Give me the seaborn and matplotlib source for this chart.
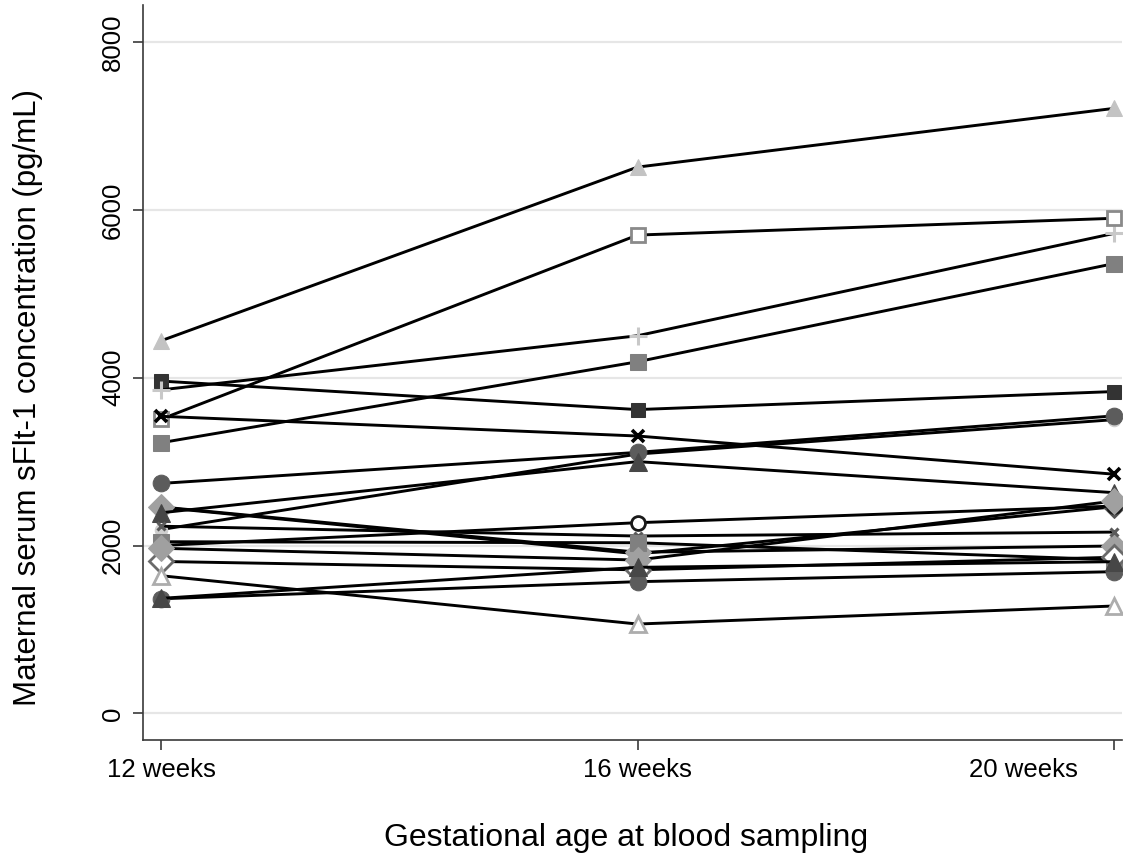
import matplotlib
matplotlib.use("Agg")
import matplotlib.pyplot as plt
import matplotlib.transforms as mtransforms
import seaborn as sns
import pandas as pd

# Sampling times (weeks of gestation) and their axis labels
weeks = [12, 16, 20]
week_labels = ["12 weeks", "16 weeks", "20 weeks"]
y_ticks = [0, 2000, 4000, 6000, 8000]

# sFlt-1 concentration (pg/mL) per woman at 12, 16 and 20 weeks
p01 = [4440, 6510, 7210]
p02 = [3960, 3620, 3835]
p03 = [3855, 4500, 5720]
p04 = [3505, 5700, 5900]
p05 = [3540, 3305, 2850]
p06 = [3225, 4190, 5360]
p07 = [2190, 3090, 3500]
p08 = [2740, 3110, 3545]
p09 = [2455, 1900, 2462]
p10 = [2460, 1920, 1994]
p11 = [2390, 3000, 2630]
p12 = [2230, 2113, 2160]
p13 = [2000, 2272, 2470]
p14 = [2045, 2033, 1830]
p15 = [1810, 1710, 1860]
p16 = [1967, 1827, 2530]
p17 = [1640, 1064, 1279]
p18 = [1365, 1569, 1688]
p19 = [1370, 1740, 1807]

subjects = [p01, p02, p03, p04, p05, p06, p07, p08, p09, p10,
            p11, p12, p13, p14, p15, p16, p17, p18, p19]

# marker styles in a monochrome palette, one per woman
marker_styles = [
    dict(marker="^", ms=12, mfc="#c3c3c3", mec="#c3c3c3"),
    dict(marker="s", ms=10, mfc="#333333", mec="#333333"),
    dict(marker="+", ms=13, mfc="#c8c8c8", mec="#c8c8c8", mew=2.2),
    dict(marker="s", ms=10, mfc="white", mec="#8a8a8a", mew=2.0),
    dict(marker="x", ms=9, mfc="black", mec="black", mew=2.6),
    dict(marker="s", ms=11, mfc="#808080", mec="#808080"),
    dict(marker="o", ms=9, mfc="#cfcfcf", mec="#cfcfcf"),
    dict(marker="o", ms=12, mfc="#5c5c5c", mec="#5c5c5c"),
    dict(marker="D", ms=11, mfc="#545454", mec="#545454"),
    dict(marker="D", ms=13, mfc="#a0a0a0", mec="#a0a0a0"),
    dict(marker="^", ms=13, mfc="#474747", mec="#474747"),
    dict(marker="x", ms=6, mfc="#5a5a5a", mec="#5a5a5a", mew=2.2),
    dict(marker="o", ms=10, mfc="white", mec="#1a1a1a", mew=2.0),
    dict(marker="s", ms=11, mfc="#808080", mec="#808080"),
    dict(marker="D", ms=12, mfc="white", mec="#6a6a6a", mew=2.0),
    dict(marker="D", ms=13, mfc="#a0a0a0", mec="#a0a0a0"),
    dict(marker="^", ms=12, mfc="white", mec="#adadad", mew=2.0),
    dict(marker="o", ms=12, mfc="#5c5c5c", mec="#5c5c5c"),
    dict(marker="^", ms=13, mfc="#474747", mec="#474747"),
]

sns.set_theme(style="white")
plt.rcParams["font.family"] = ["Liberation Sans", "DejaVu Sans"]
plt.rcParams["text.color"] = "black"
plt.rcParams["axes.labelcolor"] = "black"
plt.rcParams["xtick.color"] = "black"
plt.rcParams["ytick.color"] = "black"

W, H = 1126, 859
fig = plt.figure(figsize=(W / 100, H / 100), dpi=100)
left_px, right_px, top_px, bottom_px = 143, 1122, 5, 740
ax = fig.add_axes([left_px / W, 1 - bottom_px / H,
                   (right_px - left_px) / W, (bottom_px - top_px) / H])

for i, (vals, st) in enumerate(zip(subjects, marker_styles)):
    df = pd.DataFrame({"week": weeks, "conc": vals})
    sns.lineplot(data=df, x="week", y="conc", ax=ax, color="black",
                 linewidth=2.1, zorder=3 + i * 0.01, **st)

ax.set_xlim(11.849, 20.067)
ax.set_ylim(-318, 8442)
ax.set_xticks(weeks)
ax.set_xticklabels(week_labels)
ax.set_yticks(y_ticks)
ax.set_yticklabels([str(v) for v in y_ticks], rotation=90, va="center")

ax.grid(axis="y", color="#e6e6e6", linewidth=1.6, zorder=0)
ax.grid(axis="x", visible=False)
for side in ("top", "right"):
    ax.spines[side].set_visible(False)
for side in ("left", "bottom"):
    ax.spines[side].set_color("#3a3a3a")
    ax.spines[side].set_linewidth(1.2)

ax.tick_params(axis="both", which="major", direction="out", length=7,
               width=1.2, color="#3a3a3a", labelsize=18.5, pad=6,
               left=True, bottom=True)

# keep the last week label inside the figure
last = ax.get_xticklabels()[-1]
last.set_ha("right")
last.set_transform(last.get_transform() +
                   mtransforms.ScaledTranslation(-0.36, 0, fig.dpi_scale_trans))

ax.set_xlabel("Gestational age at blood sampling", fontsize=23)
ax.set_ylabel("Maternal serum sFlt-1 concentration (pg/mL)", fontsize=22.5,
              va="center")
ax.xaxis.set_label_coords((626 - left_px) / (right_px - left_px),
                          (bottom_px - 838) / (bottom_px - top_px))
ax.yaxis.set_label_coords((28 - left_px) / (right_px - left_px),
                          (bottom_px - 397) / (bottom_px - top_px))
ax.xaxis.label.set_va("center")

fig.savefig("out.png", dpi=100, facecolor="white")
